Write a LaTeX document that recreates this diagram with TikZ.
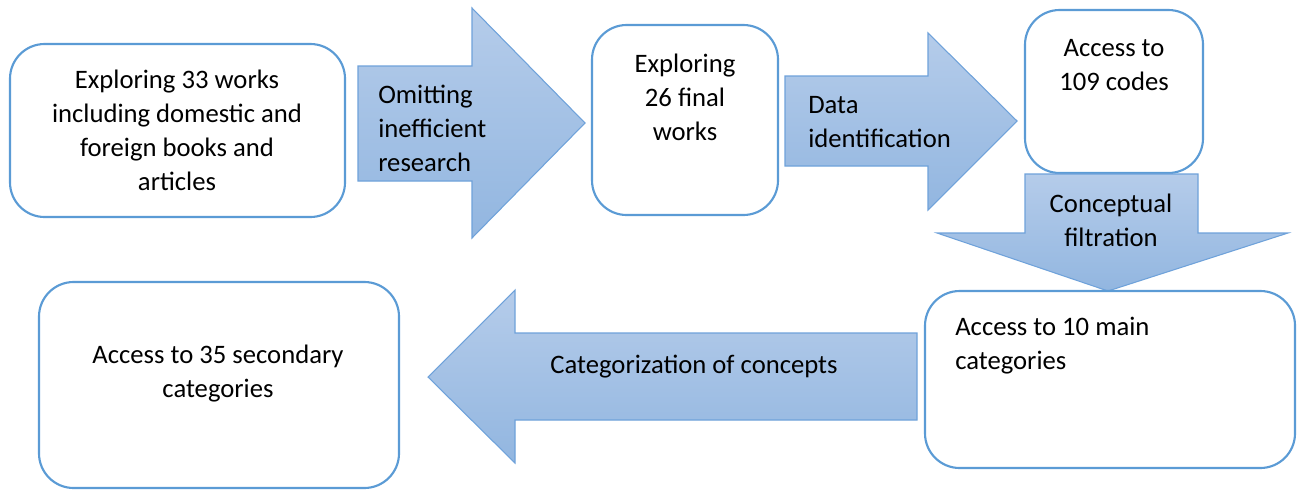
\documentclass[tikz,border=0pt]{standalone}
\usepackage{fontspec}
\setmainfont{Carlito}
\definecolor{boxline}{HTML}{5B9BD5}
\definecolor{arrowline}{HTML}{6FA2DA}
\definecolor{arrowtop}{HTML}{B5CCEA}
\definecolor{arrowbot}{HTML}{92B6E0}

\begin{document}
\begin{tikzpicture}[x=0.75pt,y=-0.75pt,
    box/.style={draw=boxline,line width=1.6pt,rounded corners=26pt},
    blockarrow/.style={draw=arrowline,line width=0.8pt,top color=arrowtop,bottom color=arrowbot},
    txt/.style={font=\fontsize{20}{25.5}\selectfont,inner sep=0pt}]

        \useasboundingbox (0,0) rectangle (1301,490);

        % first box
        \draw [box] (10,44) rectangle (345,217);
        \node [txt,align=center] (works33) at (177,130) {Exploring 33 works\\including domestic and\\foreign books and\\articles};

        % omitting arrow
        \shadedraw [blockarrow] (358,66) -- (472,66) -- (472,8) -- (585,123) -- (472,238) -- (472,181) -- (358,181) -- cycle;
        \node [txt,align=left,anchor=west] (omit) at (378,128) {Omitting\\inefficient\\research};

        % second box
        \draw [box] (592,25) rectangle (778,215);
        \node [txt,align=center] (works26) at (685,97) {Exploring\\26 final\\works};

        % identification arrow
        \shadedraw [blockarrow] (785,76) -- (928,76) -- (928,33) -- (1017,121) -- (928,210) -- (928,166) -- (785,166) -- cycle;
        \node [txt,align=left,anchor=west] (ident) at (808,122) {Data\\identification};

        % third box
        \draw [box] (1025,10) rectangle (1203,173);
        \node [txt,align=center] (codes) at (1114,65) {Access to\\109 codes};

        % filtration arrow (down)
        \shadedraw [blockarrow] (1025,174) -- (1198,174) -- (1198,233) -- (1288,233) -- (1108,291) -- (937,233) -- (1025,233) -- cycle;
        \node [txt,align=center] (filter) at (1111,220) {Conceptual\\filtration};

        % fourth box
        \draw [box] (925,291) rectangle (1295,468);
        \node [txt,align=left,anchor=west] (maincat) at (955,346) {Access to 10 main\\categories};

        % categorization arrow (left)
        \shadedraw [blockarrow] (917,333) -- (515,333) -- (515,290) -- (428,377) -- (515,463) -- (515,420) -- (917,420) -- cycle;
        \node [txt] (categ) at (694,367) {Categorization of concepts};

        % last box
        \draw [box] (39,282) rectangle (399,488);
        \node [txt,align=center] (seccat) at (218,374) {Access to 35 secondary\\categories};

\end{tikzpicture}
\end{document}
